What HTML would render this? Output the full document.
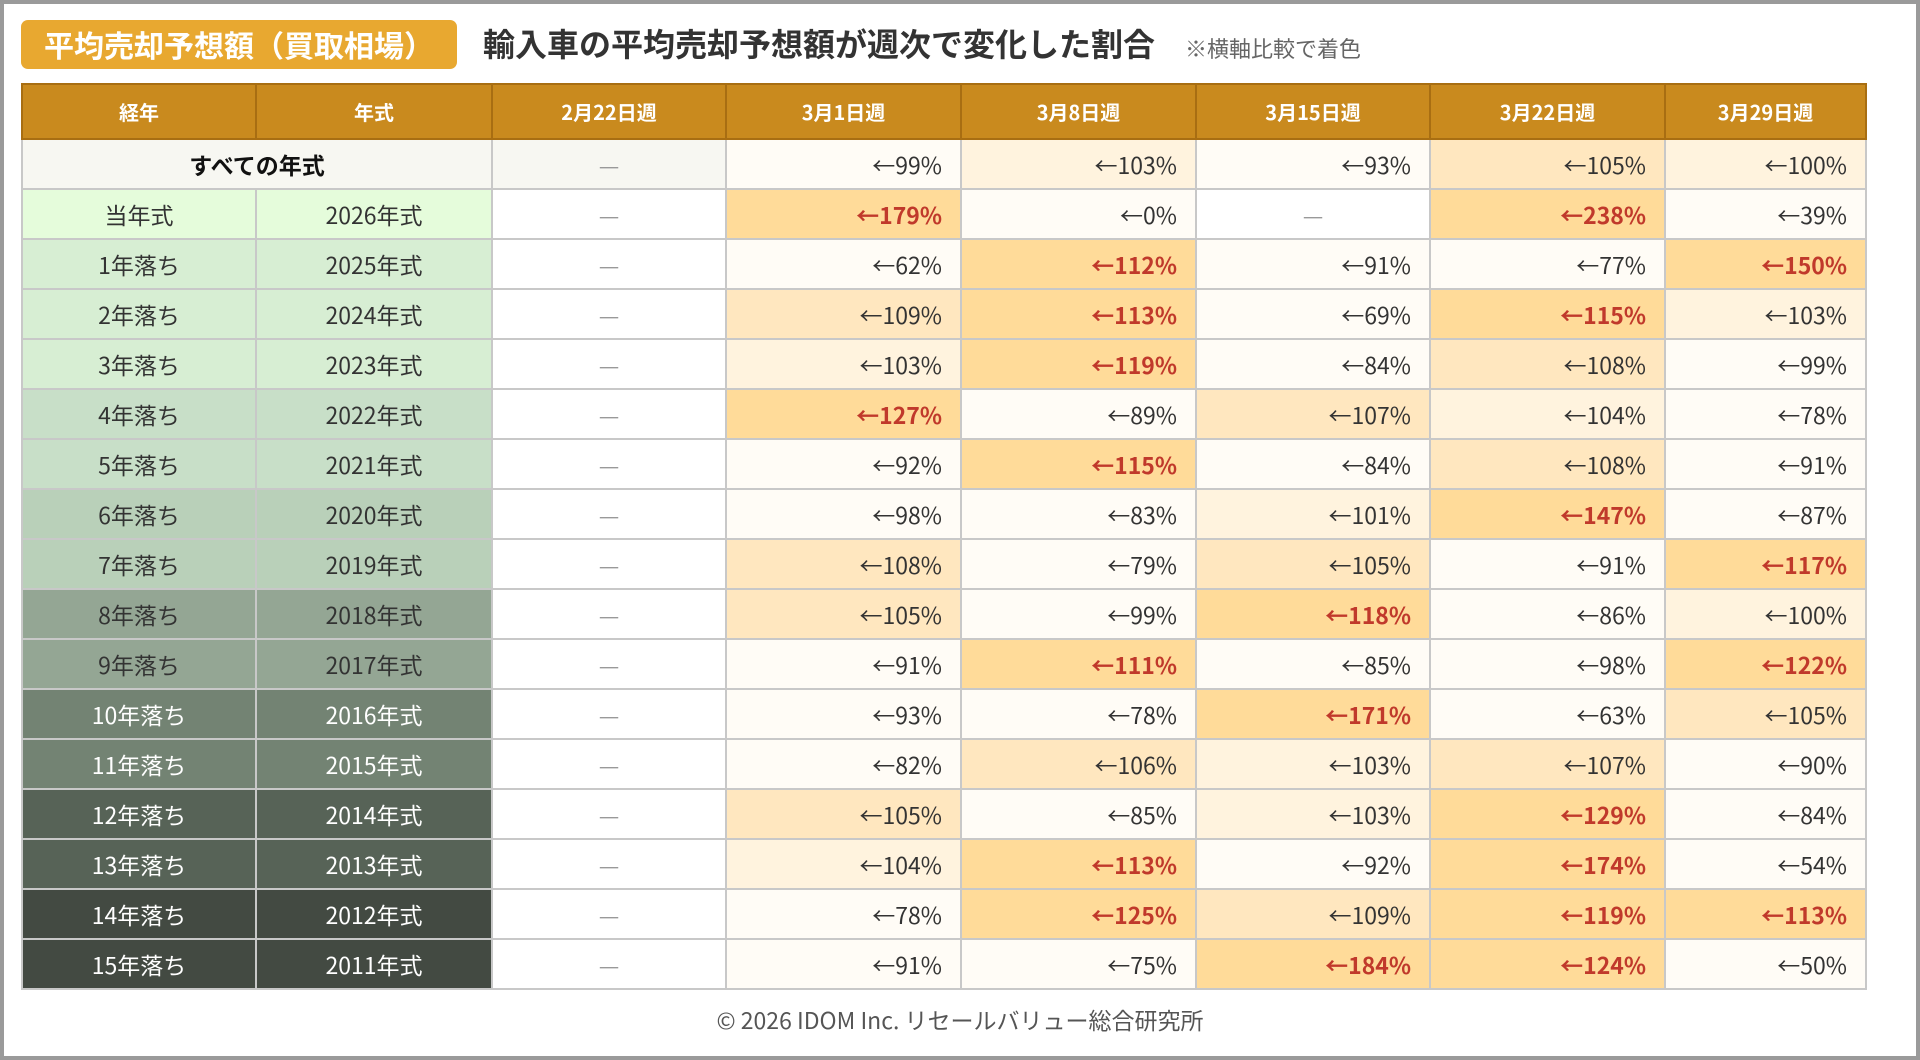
<!DOCTYPE html>
<html><head><meta charset="utf-8">
<style>
html,body{margin:0;padding:0;}
body{width:1920px;height:1060px;position:relative;background:#fff;overflow:hidden;
font-family:"Noto Sans CJK JP","Liberation Sans",sans-serif;color:#333;}
#frame{position:absolute;left:0;top:0;width:1912px;height:1052px;border:4px solid #9a9a9a;}
#badge{position:absolute;left:21px;top:20px;width:436px;height:49px;background:#E8A830;border-radius:7px;
color:#fff;font-size:30px;font-weight:bold;line-height:49px;text-align:center;white-space:nowrap;}
#title{position:absolute;left:483px;top:21px;font-size:32px;font-weight:bold;color:#333;line-height:44px;white-space:nowrap;}
#note{position:absolute;left:1185px;top:28px;font-size:22px;color:#666;line-height:40px;white-space:nowrap;}
table{position:absolute;left:21px;top:83px;border-collapse:collapse;table-layout:fixed;}
td,th{border:2px solid #c8c8c8;padding:0;height:48px;font-size:23px;line-height:24px;}
th{background:#C98A1E;color:#fff;font-weight:bold;font-size:20px;height:53px;border-color:#a86e12;}
td.lab{text-align:center;}
td.num{text-align:right;padding-right:18px;}
td.dash{text-align:center;color:#999;}
td.red{color:#c0392b;font-weight:bold;}
#footer{position:absolute;left:0;width:1920px;top:1002px;text-align:center;font-size:23px;color:#555;}
</style></head>
<body>
<div id="frame"></div>
<div id="badge">平均売却予想額（買取相場）</div>
<div id="title">輸入車の平均売却予想額が週次で変化した割合</div>
<div id="note">※横軸比較で着色</div>
<table id="tbl">
<colgroup><col style="width:234px"><col style="width:236px"><col style="width:234px"><col style="width:235px"><col style="width:235px"><col style="width:234px"><col style="width:235px"><col style="width:201px"></colgroup>
<thead><tr id="hdr"></tr></thead>
<tbody id="body"></tbody>
</table>
<div id="footer">© 2026 IDOM Inc. リセールバリュー総合研究所</div>
<script>
const weeks = ["2月22日週","3月1日週","3月8日週","3月15日週","3月22日週","3月29日週"];
const ages = ["当年式","1年落ち","2年落ち","3年落ち","4年落ち","5年落ち","6年落ち","7年落ち","8年落ち","9年落ち","10年落ち","11年落ち","12年落ち","13年落ち","14年落ち","15年落ち"];
const years = ["2026年式","2025年式","2024年式","2023年式","2022年式","2021年式","2020年式","2019年式","2018年式","2017年式","2016年式","2015年式","2014年式","2013年式","2012年式","2011年式"];
const labelBg = ["#e5fcdb","#d7eed3","#d7eed3","#d7eed3","#c8dfc8","#c8dfc8","#b9d0b9","#b9d0b9","#94a694","#94a694","#738373","#738373","#576357","#576357","#434a42","#434a42"];
const labelFg = ["#333","#333","#333","#333","#333","#333","#333","#333","#333","#333","#fff","#fff","#fff","#fff","#fff","#fff"];
const vAll = [99,103,93,105,100];
const v2026 = [179,0,null,238,39];
const v2025 = [62,112,91,77,150];
const v2024 = [109,113,69,115,103];
const v2023 = [103,119,84,108,99];
const v2022 = [127,89,107,104,78];
const v2021 = [92,115,84,108,91];
const v2020 = [98,83,101,147,87];
const v2019 = [108,79,105,91,117];
const v2018 = [105,99,118,86,100];
const v2017 = [91,111,85,98,122];
const v2016 = [93,78,171,63,105];
const v2015 = [82,106,103,107,90];
const v2014 = [105,85,103,129,84];
const v2013 = [104,113,92,174,54];
const v2012 = [78,125,109,119,113];
const v2011 = [91,75,184,124,50];
const rows = [v2026,v2025,v2024,v2023,v2022,v2021,v2020,v2019,v2018,v2017,v2016,v2015,v2014,v2013,v2012,v2011];

function bgFor(v){
  if(v===null) return "#ffffff";
  if(v>=110) return "#ffdb99";
  if(v>=105) return "#ffe7bf";
  if(v>=100) return "#fff3de";
  return "#fffcf6";
}
const hdr=document.getElementById('hdr');
["経年","年式"].concat(weeks).forEach(function(t){
  const th=document.createElement('th');th.textContent=t;
  
  
  hdr.appendChild(th);
});
const body=document.getElementById('body');
function valueCell(tr,v){
  const td=document.createElement('td');
  if(v===null){td.className='dash';td.textContent='—';}
  else{td.className='num'+(v>=110?' red':'');td.textContent='←'+v+'%';}
  td.style.background=bgFor(v);
  
  
  tr.appendChild(td);
}
function dashCell(tr,bg){
  const td=document.createElement('td');td.className='dash';td.textContent='—';td.style.background=bg;
  
  
  tr.appendChild(td);
}
(function(){
  const tr=document.createElement('tr');
  
  
  const td=document.createElement('td');td.colSpan=2;td.className='lab';td.textContent='すべての年式';
  td.style.background='#f7f7f2';td.style.fontWeight='bold';td.style.color='#111';
  
  
  tr.appendChild(td);
  dashCell(tr,'#f7f7f2');
  vAll.forEach(function(v){valueCell(tr,v);});
  body.appendChild(tr);
})();
rows.forEach(function(r,i){
  const tr=document.createElement('tr');
  
  
  [ages[i],years[i]].forEach(function(t,k){
    const td=document.createElement('td');td.className='lab';td.textContent=t;
    td.style.background=labelBg[i];td.style.color=labelFg[i];
    
    
    tr.appendChild(td);
  });
  dashCell(tr,'#ffffff');
  r.forEach(function(v){valueCell(tr,v);});
  body.appendChild(tr);
});
</script>
</body></html>
